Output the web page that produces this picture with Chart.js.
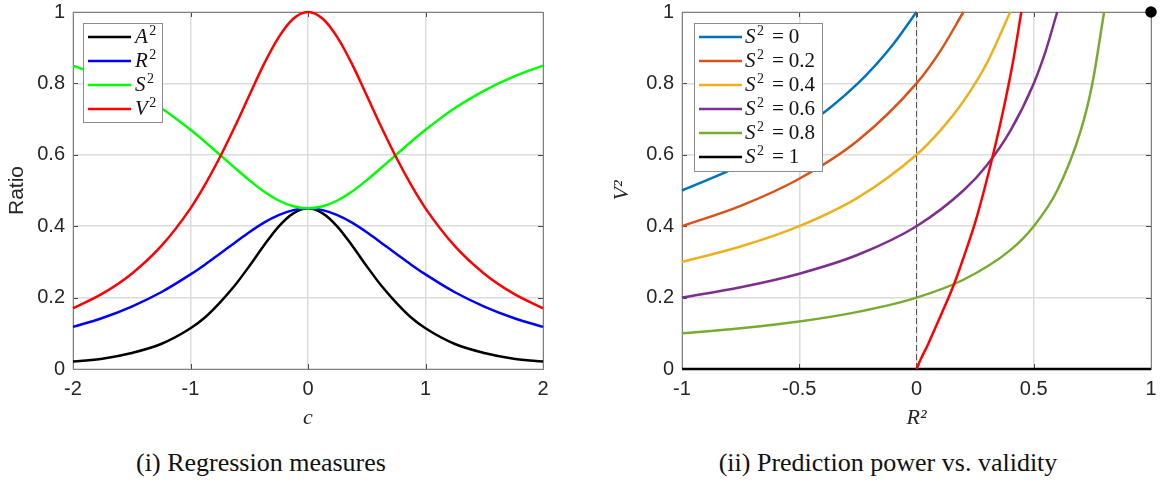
<!DOCTYPE html>
<html>
<head>
<meta charset="utf-8">
<script src="https://cdn.jsdelivr.net/npm/chart.js@4.4.1/dist/chart.umd.min.js"></script>
<style>
  html, body { margin: 0; padding: 0; background: #fff; }
  #wrap { position: relative; width: 1160px; height: 484px; overflow: hidden; }
  .pane { position: absolute; top: 0; }
  .cap { position: absolute; top: 450px; font-family: "Liberation Serif", serif; font-size: 26px;
         line-height: 26px; color: #111; white-space: nowrap; transform: translateX(-50%); }
</style>
</head>
<body>
<div id="wrap">
  <div class="pane" style="left:0"><canvas id="left" width="560" height="440"></canvas></div>
  <div class="pane" style="left:590px"><canvas id="right" width="570" height="440"></canvas></div>
  <div class="cap" style="left:261px">(i) Regression measures</div>
  <div class="cap" style="left:888px">(ii) Prediction power vs. validity</div>
</div>
<script>
  // --- (i) regression measures ---
  var cValues = [-2, -1.75, -1.5, -1.25, -1, -0.875, -0.75, -0.625, -0.5, -0.375, -0.25, -0.125, 0,
                 0.125, 0.25, 0.375, 0.5, 0.625, 0.75, 0.875, 1, 1.25, 1.5, 1.75, 2];
  var a2 = [0.021, 0.029, 0.045, 0.070, 0.114, 0.145, 0.186, 0.233, 0.288, 0.346, 0.399, 0.436, 0.450,
            0.436, 0.399, 0.346, 0.288, 0.233, 0.186, 0.145, 0.114, 0.070, 0.045, 0.029, 0.021];
  var r2 = [0.118, 0.143, 0.175, 0.215, 0.265, 0.293, 0.323, 0.353, 0.383, 0.410, 0.431, 0.445, 0.450,
            0.445, 0.431, 0.410, 0.383, 0.353, 0.323, 0.293, 0.265, 0.215, 0.175, 0.143, 0.118];
  var s2 = [0.850, 0.819, 0.780, 0.731, 0.670, 0.636, 0.600, 0.564, 0.529, 0.497, 0.472, 0.456, 0.450,
            0.456, 0.472, 0.497, 0.529, 0.564, 0.600, 0.636, 0.670, 0.731, 0.780, 0.819, 0.850];
  var v2 = [0.170, 0.211, 0.267, 0.344, 0.450, 0.517, 0.593, 0.677, 0.766, 0.854, 0.929, 0.981, 1.000,
            0.981, 0.929, 0.854, 0.766, 0.677, 0.593, 0.517, 0.450, 0.344, 0.267, 0.211, 0.170];
  var leftLabels = ["A²", "R²", "S²", "V²"];
  var leftTicksX = [-2, -1, 0, 1, 2];

  // --- (ii) V² against R² for fixed S² ---
  var s2Labels = ["S² = 0", "S² = 0.2", "S² = 0.4", "S² = 0.6", "S² = 0.8", "S² = 1"];
  var curveR_s0  = [-1, -0.75, -0.5, -0.25, -0.1, 0];
  var curveV_s0  = [0.5, 0.571, 0.667, 0.8, 0.909, 1];
  var curveR_s02 = [-1, -0.75, -0.5, -0.25, 0, 0.1, 0.2];
  var curveV_s02 = [0.4, 0.457, 0.533, 0.64, 0.8, 0.889, 1];
  var curveR_s04 = [-1, -0.75, -0.5, -0.25, 0, 0.1, 0.2, 0.3, 0.4];
  var curveV_s04 = [0.3, 0.343, 0.4, 0.48, 0.6, 0.667, 0.75, 0.857, 1];
  var curveR_s06 = [-1, -0.75, -0.5, -0.25, 0, 0.2, 0.3, 0.4, 0.5, 0.55, 0.6];
  var curveV_s06 = [0.2, 0.229, 0.267, 0.32, 0.4, 0.5, 0.571, 0.667, 0.8, 0.889, 1];
  var curveR_s08 = [-1, -0.75, -0.5, -0.25, 0, 0.2, 0.4, 0.5, 0.6, 0.7, 0.75, 0.8];
  var curveV_s08 = [0.1, 0.114, 0.133, 0.16, 0.2, 0.25, 0.333, 0.4, 0.5, 0.667, 0.8, 1];
  var curveR_s1  = [-1, 1];
  var curveV_s1  = [0, 0];
  var redR = [0, 0.02, 0.05, 0.08, 0.11, 0.14, 0.17, 0.21, 0.25, 0.29, 0.33, 0.37, 0.41, 0.447];
  var redV = [0, 0.03, 0.07, 0.115, 0.16, 0.205, 0.255, 0.33, 0.41, 0.505, 0.61, 0.725, 0.855, 1.0];
  var rightTicksX = [-1, -0.5, 0, 0.5, 1];
  var ticksY = [0, 0.2, 0.4, 0.6, 0.8, 1];

  function pts(xs, ys) { return xs.map(function (x, i) { return { x: x, y: ys[i] }; }); }
  function fmt(v) { return String(Number(v.toFixed(2))); }

  var TICK_FONT = { family: "'Liberation Sans', Arial, sans-serif", size: 20 };
  var MATH_FONT = { family: "'Liberation Serif', 'Times New Roman', serif", size: 22, style: "italic" };
  var GRID = { color: "#dcdcdc", lineWidth: 1.5, drawTicks: false };

  // box + inward ticks, drawn under the curves
  var framePlugin = {
    id: "frame",
    beforeDatasetsDraw: function (chart) {
      var ctx = chart.ctx, a = chart.chartArea, sx = chart.scales.x, sy = chart.scales.y;
      ctx.save();
      ctx.strokeStyle = "#4a4a4a";
      ctx.lineWidth = 1;
      ctx.beginPath();
      sx.ticks.forEach(function (t) {
        var p = Math.round(sx.getPixelForValue(t.value)) + 0.5;
        ctx.moveTo(p, a.bottom); ctx.lineTo(p, a.bottom - 5);
        ctx.moveTo(p, a.top); ctx.lineTo(p, a.top + 5);
      });
      sy.ticks.forEach(function (t) {
        var p = Math.round(sy.getPixelForValue(t.value)) + 0.5;
        ctx.moveTo(a.left, p); ctx.lineTo(a.left + 5, p);
        ctx.moveTo(a.right, p); ctx.lineTo(a.right - 5, p);
      });
      ctx.stroke();
      ctx.strokeStyle = "#7f7f7f";
      ctx.strokeRect(Math.round(a.left) + 0.5, Math.round(a.top) + 0.5,
                     Math.round(a.right - a.left), Math.round(a.bottom - a.top));
      ctx.restore();
    }
  };

  // MATLAB-like legend box inside the axes; labels like "S² = 0.2"
  var boxLegendPlugin = {
    id: "boxLegend",
    afterDatasetsDraw: function (chart, args, o) {
      var ctx = chart.ctx;
      var items = chart.data.datasets.filter(function (d) { return d.inLegend; });
      ctx.save();
      ctx.fillStyle = "#fff";
      ctx.fillRect(o.x, o.y, o.w, o.h);
      ctx.strokeStyle = "#8c8c8c";
      ctx.lineWidth = 1;
      ctx.strokeRect(o.x + 0.5, o.y + 0.5, o.w, o.h);
      items.forEach(function (d, i) {
        var y = o.y + o.first + i * o.row;
        ctx.strokeStyle = d.borderColor;
        ctx.lineWidth = 2.5;
        ctx.beginPath(); ctx.moveTo(o.lineX0, y); ctx.lineTo(o.lineX1, y); ctx.stroke();
        var base = y + 6, x = o.textX;
        var letter = d.label.charAt(0), rest = d.label.slice(2);
        ctx.fillStyle = "#111";
        ctx.textBaseline = "alphabetic";
        ctx.font = "italic 21px 'Liberation Serif', serif";
        ctx.fillText(letter, x, base);
        x += ctx.measureText(letter).width + 1.5;
        ctx.font = "14px 'Liberation Serif', serif";
        ctx.fillText("2", x, base - 8);
        x += ctx.measureText("2").width;
        if (rest) {
          var parts = rest.trim().split(" ");
          ctx.font = "21px 'Liberation Serif', serif";
          x += 8;
          ctx.fillText(parts[0], x, base);
          x += ctx.measureText(parts[0]).width + 5;
          ctx.fillText(parts[1], x, base);
        }
      });
      ctx.restore();
    }
  };

  function axes(xMin, xMax, xTicks, xTitle, xPad, yTitle, yFont, yPad, yWidth) {
    return {
      x: {
        type: "linear", min: xMin, max: xMax,
        afterBuildTicks: function (s) { s.ticks = xTicks.map(function (v) { return { value: v }; }); },
        afterFit: function (s) { s.height = 71; s.paddingLeft = 0; s.paddingRight = 0; },
        grid: GRID, border: { display: false },
        ticks: { font: TICK_FONT, color: "#262626", padding: 8, maxRotation: 0, autoSkip: false,
                 callback: function (v) { return fmt(v); } },
        title: { display: true, text: xTitle, font: MATH_FONT, color: "#262626", padding: { top: 0, bottom: xPad } }
      },
      y: {
        type: "linear", min: 0, max: 1,
        afterBuildTicks: function (s) { s.ticks = ticksY.map(function (v) { return { value: v }; }); },
        afterFit: function (s) { s.width = yWidth; s.paddingTop = 0; s.paddingBottom = 0; },
        grid: GRID, border: { display: false },
        ticks: { font: TICK_FONT, color: "#262626", padding: 8,
                 callback: function (v) { return fmt(v); } },
        title: { display: true, text: yTitle, font: yFont, color: "#262626", padding: { top: yPad, bottom: 0 } }
      }
    };
  }

  function line(label, xs, ys, color, order, extra) {
    var d = { label: label, data: pts(xs, ys), borderColor: color, borderWidth: 2.5,
              pointRadius: 0, fill: false, cubicInterpolationMode: "monotone", clip: false,
              order: order, inLegend: true };
    return Object.assign(d, extra || {});
  }

  var leftColors = ["#000000", "#0000ff", "#00ff00", "#ff0000"];
  var leftSeries = [a2, r2, s2, v2];

  new Chart(document.getElementById("left"), {
    type: "line",
    data: {
      datasets: leftSeries.map(function (ys, i) { return line(leftLabels[i], cValues, ys, leftColors[i], -i); })
    },
    options: {
      responsive: false, animation: false, events: [],
      layout: { padding: { left: 0, right: 17, top: 12, bottom: 0 } },
      scales: axes(-2, 2, leftTicksX, "c", 9,
                   "Ratio", { family: "'Liberation Sans', Arial, sans-serif", size: 21 }, 5, 73),
      plugins: {
        legend: { display: false }, tooltip: { enabled: false },
        boxLegend: { x: 83, y: 23, w: 79, h: 99, first: 14, row: 24, lineX0: 88, lineX1: 131, textX: 135 }
      }
    },
    plugins: [framePlugin, boxLegendPlugin]
  });

  var rightColors = ["#0072bd", "#d95319", "#edb120", "#7e2f8e", "#77ac30", "#000000"];
  var rightR = [curveR_s0, curveR_s02, curveR_s04, curveR_s06, curveR_s08, curveR_s1];
  var rightV = [curveV_s0, curveV_s02, curveV_s04, curveV_s06, curveV_s08, curveV_s1];
  var rightSets = rightR.map(function (xs, i) { return line(s2Labels[i], xs, rightV[i], rightColors[i], -i); });
  rightSets.push(line("zero", [0, 0], [0, 1], "#555555", -6,
                      { borderWidth: 1, borderDash: [6, 3], inLegend: false, cubicInterpolationMode: "default" }));
  rightSets.push(line("path", redR, redV, "#ff0000", -7, { inLegend: false }));
  rightSets.push(line("end", [1], [1], "#000000", -8,
                      { showLine: false, pointRadius: 4.5, pointBackgroundColor: "#000", inLegend: false }));

  new Chart(document.getElementById("right"), {
    type: "line",
    data: { datasets: rightSets },
    options: {
      responsive: false, animation: false, events: [],
      layout: { padding: { left: 0, right: 9, top: 12, bottom: 0 } },
      scales: axes(-1, 1, rightTicksX, "R²", 9, "V²", MATH_FONT, 19, 92),
      plugins: {
        legend: { display: false }, tooltip: { enabled: false },
        boxLegend: { x: 104, y: 23, w: 128, h: 148, first: 14, row: 24, lineX0: 109, lineX1: 152, textX: 155 }
      }
    },
    plugins: [framePlugin, boxLegendPlugin]
  });
</script>
</body>
</html>
